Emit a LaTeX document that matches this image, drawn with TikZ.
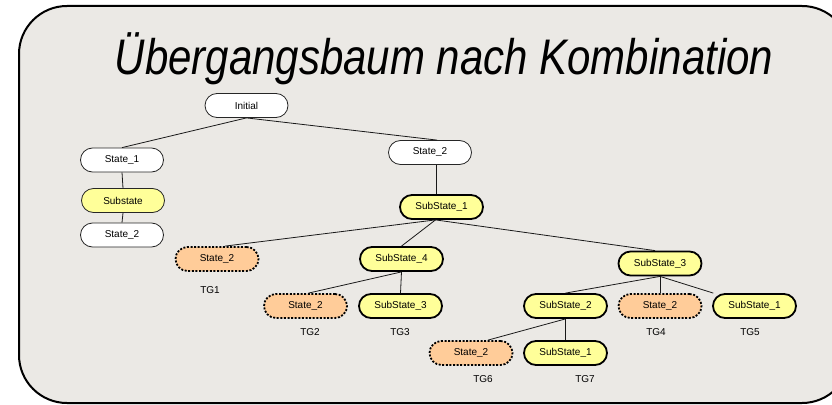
\documentclass[tikz,border=0pt]{standalone}
\usepackage{fontspec}
\setmainfont{Liberation Sans}
\usepackage{tikz}
\usetikzlibrary{calc}
\definecolor{panelgray}{RGB}{235, 233, 229}
\definecolor{subyellow}{RGB}{255, 255, 153}
\definecolor{goalorange}{RGB}{255, 204, 153}
\tikzset{
  st/.style={draw=black!85, line width=0.8pt, rounded corners=12pt,
    minimum width=83pt, minimum height=24pt, inner sep=0pt,
    font=\fontsize{10}{12}\selectfont},
  plainst/.style={st, fill=white},
  subst/.style={st, fill=subyellow, draw=black, line width=1.8pt},
  subthin/.style={st, fill=subyellow},
  goalst/.style={st, fill=goalorange, draw=black, line width=1.8pt,
    dash pattern=on 2pt off 1.6pt},
  tglabel/.style={font=\fontsize{10}{12}\selectfont},
  edge/.style={draw=black!90, line width=0.8pt}
}

\begin{document}
\begin{tikzpicture}[x=1pt, y=-1pt]
\useasboundingbox (0,0) rectangle (832,404);
\draw[fill=panelgray, line width=2pt, rounded corners=48pt] (19,6) rectangle (850,403);
\node[anchor=base, xscale=0.84, transform shape, font=\fontsize{50}{60}\selectfont\itshape] (title) at (444,74.5) {Übergangsbaum nach Kombination};

% linker Zweig
\node[plainst] (init) at (246.5,105.5) {Initial};
\node[plainst] (s1) at (122,160) {State\_1};
\node[subthin] (subl) at (123,200.5) {Substate};
\node[plainst] (s2l) at (122,235) {State\_2};

% rechter Zweig
\node[plainst] (s2) at (430,152.5) {State\_2};
\node[subst] (sub1) at (441.5,207) {SubState\_1};
\node[goalst] (tg1n) at (217,259) {State\_2};
\node[subst] (sub4) at (401.5,259) {SubState\_4};
\node[subst] (sub3) at (660,263.5) {SubState\_3};
\node[goalst] (tg2n) at (305.5,306) {State\_2};
\node[subst] (tg3n) at (400.5,306) {SubState\_3};
\node[subst] (sub2) at (565.5,306) {SubState\_2};
\node[goalst] (tg4n) at (660,306) {State\_2};
\node[subst] (tg5n) at (754.5,306) {SubState\_1};
\node[goalst] (tg6n) at (471,353) {State\_2};
\node[subst] (tg7n) at (565.5,353) {SubState\_1};

\draw[edge] (init.south) -- (s1.north);
\draw[edge] (init.south) -- ([xshift=7pt]s2.north);
\draw[edge] (s1.south) -- (subl.north);
\draw[edge] (subl.south) -- (s2l.north);
\draw[edge] ([xshift=-5.5pt]sub1.north) -- ([xshift=-5.5pt]sub1.north |- s2.south);
\coordinate (sub1b) at ([xshift=-6pt]sub1.south);
\draw[edge] (sub1b) -- ([xshift=8pt]tg1n.north);
\draw[edge] (sub1b) -- (sub4.north);
\draw[edge] (sub1b) -- ([xshift=-5pt]sub3.north);
\draw[edge] (sub4.south) -- ([xshift=3pt]tg2n.north);
\draw[edge] (sub4.south) -- (tg3n.north);
\draw[edge] (sub3.south) -- (sub2.north);
\draw[edge] (sub3.south) -- (tg4n.north);
\draw[edge] (sub3.south) -- (tg5n);
\draw[edge] (sub2.south) -- ([xshift=17pt]tg6n.north);
\draw[edge] (sub2.south) -- (tg7n.north);

% Teilgraphen
\foreach \name/\x/\y in {TG1/210/290, TG2/310/332, TG3/400/332, TG4/656/332,
  TG5/750/332, TG6/483/379, TG7/585/379}{
  \node[tglabel] (lab\name) at (\x,\y) {\name};
}
\end{tikzpicture}
\end{document}
